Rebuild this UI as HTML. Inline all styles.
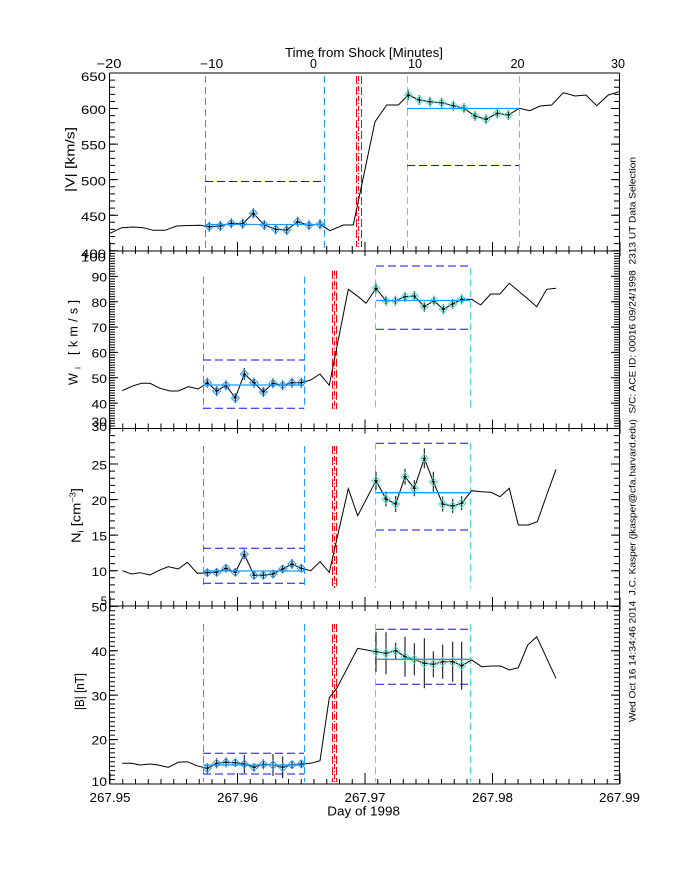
<!DOCTYPE html>
<html><head><meta charset="utf-8"><style>
html,body{margin:0;padding:0;background:#fff;}
svg{display:block;}
text{font-family:"Liberation Sans",sans-serif;fill:#000;}
</style></head><body>
<svg width="680" height="880" viewBox="0 0 680 880" xmlns="http://www.w3.org/2000/svg">
<defs><path id="dm" d="M0,-4L4,0L0,4L-4,0Z" fill="none"/></defs>
<rect width="680" height="880" fill="#fff"/>

<!-- Frame -->
<g stroke="#000" stroke-width="1" fill="none" shape-rendering="crispEdges">
<line x1="109.5" y1="73" x2="109.5" y2="784"/>
<line x1="619.5" y1="73" x2="619.5" y2="784"/>
<line x1="109.5" y1="73" x2="619.5" y2="73"/>
<line x1="109.5" y1="251" x2="619.5" y2="251"/>
<line x1="109.5" y1="428.5" x2="619.5" y2="428.5"/>
<line x1="109.5" y1="606" x2="619.5" y2="606"/>
<line x1="109.5" y1="784" x2="619.5" y2="784"/>
</g>

<!-- Y ticks -->
<g stroke="#000" fill="none">
<line x1="112.5" y1="72.5" x2="112.5" y2="251.5" stroke-width="5" stroke-dasharray="1 6.11"/>
<line x1="114" y1="72.5" x2="114" y2="251.5" stroke-width="8" stroke-dasharray="1 34.55"/>
<line x1="616.5" y1="72.5" x2="616.5" y2="251.5" stroke-width="5" stroke-dasharray="1 6.11"/>
<line x1="615" y1="72.5" x2="615" y2="251.5" stroke-width="8" stroke-dasharray="1 34.55"/>
<line x1="112.5" y1="250.5" x2="112.5" y2="429" stroke-width="5" stroke-dasharray="1 1.5357"/>
<line x1="114" y1="250.5" x2="114" y2="429" stroke-width="8" stroke-dasharray="1 24.357"/>
<line x1="616.5" y1="250.5" x2="616.5" y2="429" stroke-width="5" stroke-dasharray="1 1.5357"/>
<line x1="615" y1="250.5" x2="615" y2="429" stroke-width="8" stroke-dasharray="1 24.357"/>
<line x1="112.5" y1="428" x2="112.5" y2="607" stroke-width="5" stroke-dasharray="1 6.11"/>
<line x1="114" y1="428" x2="114" y2="607" stroke-width="8" stroke-dasharray="1 34.55"/>
<line x1="616.5" y1="428" x2="616.5" y2="607" stroke-width="5" stroke-dasharray="1 6.11"/>
<line x1="615" y1="428" x2="615" y2="607" stroke-width="8" stroke-dasharray="1 34.55"/>
<line x1="112.5" y1="605.75" x2="112.5" y2="784.5" stroke-width="5" stroke-dasharray="1 3.44375"/>
<line x1="114" y1="605.75" x2="114" y2="784.5" stroke-width="8" stroke-dasharray="1 43.4375"/>
<line x1="616.5" y1="605.75" x2="616.5" y2="784.5" stroke-width="5" stroke-dasharray="1 3.44375"/>
<line x1="615" y1="605.75" x2="615" y2="784.5" stroke-width="8" stroke-dasharray="1 43.4375"/>
</g>

<!-- X ticks -->
<g stroke="#000" fill="none">
<line x1="109.5" y1="250" x2="621" y2="250" stroke-width="8" stroke-dasharray="1 11.75"/>
<line x1="109.5" y1="249" x2="621" y2="249" stroke-width="14" stroke-dasharray="1 126.5"/>
<line x1="109.5" y1="427.5" x2="621" y2="427.5" stroke-width="8" stroke-dasharray="1 11.75"/>
<line x1="109.5" y1="426.5" x2="621" y2="426.5" stroke-width="14" stroke-dasharray="1 126.5"/>
<line x1="109.5" y1="605" x2="621" y2="605" stroke-width="8" stroke-dasharray="1 11.75"/>
<line x1="109.5" y1="604" x2="621" y2="604" stroke-width="14" stroke-dasharray="1 126.5"/>
<line x1="109.5" y1="781.5" x2="621" y2="781.5" stroke-width="5" stroke-dasharray="1 11.75"/>
<line x1="109.5" y1="778.5" x2="621" y2="778.5" stroke-width="11" stroke-dasharray="1 126.5"/>
</g>

<!-- Vertical selection lines -->
<g fill="none" stroke-width="1">
<g stroke="#1e9bff" stroke-dasharray="7 4"><line x1="205.5" y1="76" x2="205.5" y2="249"/><line x1="324.5" y1="76" x2="324.5" y2="249"/></g>
<g stroke="#40e0c8" stroke-dasharray="7 4"><line x1="407.5" y1="76" x2="407.5" y2="249"/><line x1="519.5" y1="76" x2="519.5" y2="249"/></g>
<g stroke="#ff0000"><line x1="356.5" y1="76" x2="356.5" y2="247" stroke-dasharray="8 3"/><line x1="358.5" y1="76" x2="358.5" y2="247" stroke-dasharray="5 2 1 2"/><line x1="361.5" y1="76" x2="361.5" y2="247" stroke-dasharray="8 3"/></g>
<g stroke="#1e9bff" stroke-dasharray="7 4"><line x1="203.5" y1="276.7" x2="203.5" y2="409.3"/><line x1="304.5" y1="276.7" x2="304.5" y2="409.3"/></g>
<g stroke="#40e0c8" stroke-dasharray="7 4"><line x1="375.5" y1="268.3" x2="375.5" y2="409.3"/><line x1="470.5" y1="268.3" x2="470.5" y2="409.3"/></g>
<g stroke="#ff0000"><line x1="332.5" y1="270.7" x2="332.5" y2="409.3" stroke-dasharray="8 3"/><line x1="334.5" y1="270.7" x2="334.5" y2="409.3" stroke-dasharray="5 2 1 2"/><line x1="336.5" y1="270.7" x2="336.5" y2="409.3" stroke-dasharray="8 3"/></g>
<g stroke="#1e9bff" stroke-dasharray="7 4"><line x1="203.5" y1="446" x2="203.5" y2="588"/><line x1="304.5" y1="446" x2="304.5" y2="588"/></g>
<g stroke="#40e0c8" stroke-dasharray="7 4"><line x1="375.5" y1="443.3" x2="375.5" y2="588"/><line x1="470.5" y1="443.3" x2="470.5" y2="588"/></g>
<g stroke="#ff0000"><line x1="332.5" y1="446" x2="332.5" y2="588" stroke-dasharray="8 3"/><line x1="334.5" y1="446" x2="334.5" y2="588" stroke-dasharray="5 2 1 2"/><line x1="336.5" y1="446" x2="336.5" y2="588" stroke-dasharray="8 3"/></g>
<g stroke="#1e9bff" stroke-dasharray="7 4"><line x1="203.5" y1="624" x2="203.5" y2="782"/><line x1="304.5" y1="624" x2="304.5" y2="782"/></g>
<g stroke="#40e0c8" stroke-dasharray="7 4"><line x1="375.5" y1="624" x2="375.5" y2="782"/><line x1="470.5" y1="624" x2="470.5" y2="782"/></g>
<g stroke="#ff0000"><line x1="332.5" y1="624" x2="332.5" y2="782" stroke-dasharray="8 3"/><line x1="334.5" y1="624" x2="334.5" y2="782" stroke-dasharray="5 2 1 2"/><line x1="336.5" y1="624" x2="336.5" y2="782" stroke-dasharray="8 3"/></g>
</g>

<!-- Dark blue dashed horizontal limits -->
<g stroke="#1010e8" stroke-width="1" stroke-dasharray="8 4" fill="none">
<line x1="205" y1="181.5" x2="325" y2="181.5"/>
<line x1="407" y1="165.5" x2="519" y2="165.5"/>
<line x1="203" y1="360" x2="304" y2="360"/>
<line x1="203" y1="408.3" x2="304" y2="408.3"/>
<line x1="376" y1="266" x2="470" y2="266"/>
<line x1="376" y1="329.3" x2="470" y2="329.3"/>
<line x1="203" y1="548.3" x2="304" y2="548.3"/>
<line x1="203" y1="583.3" x2="304" y2="583.3"/>
<line x1="376" y1="443.3" x2="470" y2="443.3"/>
<line x1="376" y1="530" x2="470" y2="530"/>
<line x1="203" y1="753.3" x2="304" y2="753.3"/>
<line x1="203" y1="774" x2="304" y2="774"/>
<line x1="376" y1="629.3" x2="470" y2="629.3"/>
<line x1="376" y1="684.3" x2="470" y2="684.3"/>
</g>

<!-- Data lines -->
<g stroke="#000" stroke-width="1" fill="none">
<polyline points="110,233.3 121.7,227.7 133.3,227 143.3,227.7 153.3,230.3 165,230.3 176.7,226 188,225.5 200,225.3 209.3,226.7 220.3,226 231.3,223.3 242.7,223.7 253.3,213.3 264.3,225 275.7,229.3 286.7,230 297.7,221.7 309,225.3 320,224.3 330,230.7 343.3,225 353.3,225 375,121.7 386.7,105 398.3,105 408.3,95 419.3,100 430,101.7 441.7,102.7 453.3,105.7 464,108.3 475,116 486,119.3 497.3,113.3 508.3,115 519.3,108.3 530,110.7 540,106 551.7,105 563.3,92.7 575,96 586,95 596.7,105.7 608.3,95 619,91.7"/>
<polyline points="122.3,390.7 133.3,385.7 141.7,383.3 150,383.3 160,388.3 170,391 178.3,391 188.3,386.7 198.3,389 207.3,382.7 216.7,391 226,385.3 235.3,398 244.3,374 254,382.7 263.3,392 273,383.3 282.7,385.3 292,382.7 301.3,382.7 310.7,380 320,374 329.3,385.3 348.3,289.3 358.3,296.7 366,303.3 376,288.3 386,300.7 395.3,300.7 405,296.7 414.3,296 424.3,306.7 434,300.7 443.3,309.3 452.7,304 461.7,299.3 471.7,299.3 480.7,305 490.7,294 500,294 509.3,283.3 519.3,291.7 528.3,299.3 536.7,306.7 546.7,289.3 556,288.3"/>
<polyline points="122.3,570.7 131.7,574 140,572.7 150,575 158.3,570.7 168.3,566.7 178.3,569 187.3,562.3 197.3,573.3 207.3,572.7 216.7,572.3 226,568.3 235.3,572.3 244.3,554.3 254,575.3 263.3,575.3 273,574 282.7,569 292,564 301.3,568.3 310.7,570.7 320,561.7 329.3,572.3 348.3,488.7 357.7,515.7 376,480.7 386,499 395.7,504 405,476.7 414.3,488.3 424.3,458.3 433.3,481.7 442.7,504 452.7,506 461.7,503.3 471.7,490.7 481.7,491.7 491,492.3 500,496.7 509.3,488.3 518.3,525 528.3,525 537.3,521.7 546.7,495 556,469.3"/>
<polyline points="122.3,763.3 131.7,763.3 140,765 150,764 158.3,765 168.3,767.3 178.3,762.3 187.3,761.7 196.7,765.7 207.3,768.3 216.7,763.3 226,762.3 235.3,762.7 244.3,764 254,767.3 263.3,764.3 273,765 282.7,767.3 292,764.7 301.3,764 310.7,763.3 320,760.7 329.3,697.7 336.7,688.3 357.7,648.3 366.7,650 376,651.7 386,653.3 395.7,650.7 405,656.7 414.3,659.3 424.3,663.3 433.3,664.3 442.7,661.7 452.7,661.7 461.7,665.7 471.7,660 481.7,666.7 491,666 500.7,666 509.3,670 518.3,667.7 527.7,645 536.7,636.7 556,678.3"/>
</g>

<!-- Error bars and + symbols -->
<g stroke="#000" stroke-width="1" fill="none">
<path d="M209.3,221.7V231.7M207.3,226.7H211.3M220.3,221V231M218.3,226H222.3M231.3,218.3V228.3M229.3,223.3H233.3M242.7,218.7V228.7M240.7,223.7H244.7M253.3,208.3V218.3M251.3,213.3H255.3M264.3,220V230M262.3,225H266.3M275.7,224.3V234.3M273.7,229.3H277.7M286.7,225V235M284.7,230H288.7M297.7,216.7V226.7M295.7,221.7H299.7M309,220.3V230.3M307,225.3H311M320,219.3V229.3M318,224.3H322"/>
<path d="M408.3,90V100M406.3,95H410.3M419.3,95V105M417.3,100H421.3M430,96.7V106.7M428,101.7H432M441.7,97.7V107.7M439.7,102.7H443.7M453.3,100.7V110.7M451.3,105.7H455.3M464,103.3V113.3M462,108.3H466M475,111V121M473,116H477M486,114.3V124.3M484,119.3H488M497.3,108.3V118.3M495.3,113.3H499.3M508.3,110V120M506.3,115H510.3"/>
<path d="M207.3,377.7V387.7M205.3,382.7H209.3M216.7,386V396M214.7,391H218.7M226,380.3V390.3M224,385.3H228M235.3,393V403M233.3,398H237.3M244.3,368V380M242.3,374H246.3M254,377.7V387.7M252,382.7H256M263.3,387V397M261.3,392H265.3M273,378.3V388.3M271,383.3H275M282.7,380.3V390.3M280.7,385.3H284.7M292,377.7V387.7M290,382.7H294M301.3,377.7V387.7M299.3,382.7H303.3"/>
<path d="M376,283.3V293.3M374,288.3H378M386,295.7V305.7M384,300.7H388M395.3,295.7V305.7M393.3,300.7H397.3M405,291.7V301.7M403,296.7H407M414.3,291V301M412.3,296H416.3M424.3,301.7V311.7M422.3,306.7H426.3M434,295.7V305.7M432,300.7H436M443.3,304.3V314.3M441.3,309.3H445.3M452.7,299V309M450.7,304H454.7M461.7,294.3V304.3M459.7,299.3H463.7"/>
<path d="M207.3,568.7V576.7M205.3,572.7H209.3M216.7,568.3V576.3M214.7,572.3H218.7M226,564.3V572.3M224,568.3H228M235.3,568.3V576.3M233.3,572.3H237.3M244.3,549.3V559.3M242.3,554.3H246.3M254,571.3V579.3M252,575.3H256M263.3,571.3V579.3M261.3,575.3H265.3M273,570V578M271,574H275M282.7,565V573M280.7,569H284.7M292,559V569M290,564H294M301.3,564.3V572.3M299.3,568.3H303.3"/>
<path d="M376,471.7V489.7M374,480.7H378M386,491.5V506.5M384,499H388M395.7,496V512M393.7,504H397.7M405,468.7V484.7M403,476.7H407M414.3,480.3V496.3M412.3,488.3H416.3M424.3,448.3V468.3M422.3,458.3H426.3M433.3,471.7V491.7M431.3,481.7H435.3M442.7,496.5V511.5M440.7,504H444.7M452.7,499V513M450.7,506H454.7M461.7,496.3V510.3M459.7,503.3H463.7"/>
<path d="M207.3,763.3V773.3M205.3,768.3H209.3M216.7,758.3V768.3M214.7,763.3H218.7M226,757.3V767.3M224,762.3H228M235.3,758.7V766.7M233.3,762.7H237.3M244.3,755V773M242.3,764H246.3M254,764.3V770.3M252,767.3H256M263.3,759.3V769.3M261.3,764.3H265.3M273,754V776M271,765H275M282.7,756.3V778.3M280.7,767.3H284.7M292,760.7V768.7M290,764.7H294M301.3,760V768M299.3,764H303.3"/>
<path d="M376,631.7V671.7M374,651.7H378M386,632.3V674.3M384,653.3H388M395.7,642.7V658.7M393.7,650.7H397.7M405,636.7V676.7M403,656.7H407M414.3,643.3V675.3M412.3,659.3H416.3M424.3,638.3V688.3M422.3,663.3H426.3M433.3,651.3V677.3M431.3,664.3H435.3M442.7,644.7V678.7M440.7,661.7H444.7M452.7,641.7V681.7M450.7,661.7H454.7M461.7,641.7V689.7M459.7,665.7H463.7"/>
</g>

<!-- Diamonds -->
<g stroke="#1e9bff" stroke-width="1" fill="none">
<use href="#dm" x="209.3" y="226.7"/><use href="#dm" x="220.3" y="226"/><use href="#dm" x="231.3" y="223.3"/><use href="#dm" x="242.7" y="223.7"/><use href="#dm" x="253.3" y="213.3"/><use href="#dm" x="264.3" y="225"/><use href="#dm" x="275.7" y="229.3"/><use href="#dm" x="286.7" y="230"/><use href="#dm" x="297.7" y="221.7"/><use href="#dm" x="309" y="225.3"/><use href="#dm" x="320" y="224.3"/>
<use href="#dm" x="207.3" y="382.7"/><use href="#dm" x="216.7" y="391"/><use href="#dm" x="226" y="385.3"/><use href="#dm" x="235.3" y="398"/><use href="#dm" x="244.3" y="374"/><use href="#dm" x="254" y="382.7"/><use href="#dm" x="263.3" y="392"/><use href="#dm" x="273" y="383.3"/><use href="#dm" x="282.7" y="385.3"/><use href="#dm" x="292" y="382.7"/><use href="#dm" x="301.3" y="382.7"/>
<use href="#dm" x="207.3" y="572.7"/><use href="#dm" x="216.7" y="572.3"/><use href="#dm" x="226" y="568.3"/><use href="#dm" x="235.3" y="572.3"/><use href="#dm" x="244.3" y="554.3"/><use href="#dm" x="254" y="575.3"/><use href="#dm" x="263.3" y="575.3"/><use href="#dm" x="273" y="574"/><use href="#dm" x="282.7" y="569"/><use href="#dm" x="292" y="564"/><use href="#dm" x="301.3" y="568.3"/>
<use href="#dm" x="207.3" y="768.3"/><use href="#dm" x="216.7" y="763.3"/><use href="#dm" x="226" y="762.3"/><use href="#dm" x="235.3" y="762.7"/><use href="#dm" x="244.3" y="764"/><use href="#dm" x="254" y="767.3"/><use href="#dm" x="263.3" y="764.3"/><use href="#dm" x="273" y="765"/><use href="#dm" x="282.7" y="767.3"/><use href="#dm" x="292" y="764.7"/><use href="#dm" x="301.3" y="764"/>
</g>
<g stroke="#40e0c8" stroke-width="1" fill="none">
<use href="#dm" x="408.3" y="95"/><use href="#dm" x="419.3" y="100"/><use href="#dm" x="430" y="101.7"/><use href="#dm" x="441.7" y="102.7"/><use href="#dm" x="453.3" y="105.7"/><use href="#dm" x="464" y="108.3"/><use href="#dm" x="475" y="116"/><use href="#dm" x="486" y="119.3"/><use href="#dm" x="497.3" y="113.3"/><use href="#dm" x="508.3" y="115"/>
<use href="#dm" x="376" y="288.3"/><use href="#dm" x="386" y="300.7"/><use href="#dm" x="395.3" y="300.7"/><use href="#dm" x="405" y="296.7"/><use href="#dm" x="414.3" y="296"/><use href="#dm" x="424.3" y="306.7"/><use href="#dm" x="434" y="300.7"/><use href="#dm" x="443.3" y="309.3"/><use href="#dm" x="452.7" y="304"/><use href="#dm" x="461.7" y="299.3"/>
<use href="#dm" x="376" y="480.7"/><use href="#dm" x="386" y="499"/><use href="#dm" x="395.7" y="504"/><use href="#dm" x="405" y="476.7"/><use href="#dm" x="414.3" y="488.3"/><use href="#dm" x="424.3" y="458.3"/><use href="#dm" x="433.3" y="481.7"/><use href="#dm" x="442.7" y="504"/><use href="#dm" x="452.7" y="506"/><use href="#dm" x="461.7" y="503.3"/>
<use href="#dm" x="376" y="651.7"/><use href="#dm" x="386" y="653.3"/><use href="#dm" x="395.7" y="650.7"/><use href="#dm" x="405" y="656.7"/><use href="#dm" x="414.3" y="659.3"/><use href="#dm" x="424.3" y="663.3"/><use href="#dm" x="433.3" y="664.3"/><use href="#dm" x="442.7" y="661.7"/><use href="#dm" x="452.7" y="661.7"/><use href="#dm" x="461.7" y="665.7"/>
</g>

<!-- Mean lines -->
<g stroke="#1e9bff" stroke-width="1.3" fill="none">
<line x1="205" y1="224.5" x2="325" y2="224.5"/>
<line x1="407" y1="108.5" x2="519" y2="108.5"/>
<line x1="203" y1="385" x2="304" y2="385"/>
<line x1="376" y1="300.5" x2="470" y2="300.5"/>
<line x1="203" y1="571" x2="304" y2="571"/>
<line x1="376" y1="492.7" x2="470" y2="492.7"/>
<line x1="203" y1="765" x2="304" y2="765"/>
<line x1="376" y1="659.3" x2="470" y2="659.3"/>
</g>

<!-- Top axis labels -->
<g font-size="12.5" text-anchor="middle">
<text x="109" y="68" textLength="25" lengthAdjust="spacingAndGlyphs">−20</text>
<text x="211.7" y="68" textLength="23" lengthAdjust="spacingAndGlyphs">−10</text>
<text x="313.5" y="68">0</text>
<text x="415" y="68" textLength="14" lengthAdjust="spacingAndGlyphs">10</text>
<text x="517.5" y="68" textLength="14" lengthAdjust="spacingAndGlyphs">20</text>
<text x="618" y="68" textLength="14" lengthAdjust="spacingAndGlyphs">30</text>
</g>
<text x="285" y="57" font-size="12.5" textLength="158" lengthAdjust="spacingAndGlyphs">Time from Shock [Minutes]</text>

<!-- Y tick labels -->
<g font-size="11.5" text-anchor="end">
<text x="106" y="81" textLength="25" lengthAdjust="spacingAndGlyphs">650</text>
<text x="106" y="114" textLength="25" lengthAdjust="spacingAndGlyphs">600</text>
<text x="106" y="149.7" textLength="25" lengthAdjust="spacingAndGlyphs">550</text>
<text x="106" y="185.3" textLength="25" lengthAdjust="spacingAndGlyphs">500</text>
<text x="106" y="220.9" textLength="25" lengthAdjust="spacingAndGlyphs">450</text>
<text x="106" y="258" textLength="25" lengthAdjust="spacingAndGlyphs">400</text>

<text x="106" y="261.5" textLength="25" lengthAdjust="spacingAndGlyphs">100</text>
<text x="107" y="281.5" textLength="15.5" lengthAdjust="spacingAndGlyphs">90</text>
<text x="107" y="306.8" textLength="15.5" lengthAdjust="spacingAndGlyphs">80</text>
<text x="107" y="332.2" textLength="15.5" lengthAdjust="spacingAndGlyphs">70</text>
<text x="107" y="357.5" textLength="15.5" lengthAdjust="spacingAndGlyphs">60</text>
<text x="107" y="382.9" textLength="15.5" lengthAdjust="spacingAndGlyphs">50</text>
<text x="107" y="408.3" textLength="15.5" lengthAdjust="spacingAndGlyphs">40</text>
<text x="107" y="426" textLength="15.5" lengthAdjust="spacingAndGlyphs">30</text>

<text x="107" y="431" textLength="15.5" lengthAdjust="spacingAndGlyphs">30</text>
<text x="107" y="469.5" textLength="15.5" lengthAdjust="spacingAndGlyphs">25</text>
<text x="107" y="505" textLength="15.5" lengthAdjust="spacingAndGlyphs">20</text>
<text x="107" y="540.5" textLength="15.5" lengthAdjust="spacingAndGlyphs">15</text>
<text x="107" y="576" textLength="15.5" lengthAdjust="spacingAndGlyphs">10</text>
<text x="107" y="605">5</text>

<text x="107" y="611.5" textLength="15.5" lengthAdjust="spacingAndGlyphs">50</text>
<text x="107" y="656" textLength="15.5" lengthAdjust="spacingAndGlyphs">40</text>
<text x="107" y="700.3" textLength="15.5" lengthAdjust="spacingAndGlyphs">30</text>
<text x="107" y="744.7" textLength="15.5" lengthAdjust="spacingAndGlyphs">20</text>
<text x="107" y="786" textLength="15.5" lengthAdjust="spacingAndGlyphs">10</text>
</g>

<!-- Y axis titles -->
<text transform="translate(74.5,192) rotate(-90)" font-size="12.5" textLength="65" lengthAdjust="spacingAndGlyphs">|V| [km/s]</text>
<text transform="translate(77.5,385) rotate(-90)" font-size="12.5" textLength="85" lengthAdjust="spacing">W<tspan font-size="8" dy="3">i</tspan><tspan dy="-3"> [km/s]</tspan></text>
<text transform="translate(80.5,543) rotate(-90)" font-size="12.5" textLength="55" lengthAdjust="spacingAndGlyphs">N<tspan font-size="8" dy="3">i</tspan><tspan dy="-3"> [cm</tspan><tspan font-size="8" dy="-5">−3</tspan><tspan dy="5">]</tspan></text>
<text transform="translate(84,710) rotate(-90)" font-size="12.5" textLength="37" lengthAdjust="spacingAndGlyphs">|B| [nT]</text>

<!-- Bottom labels -->
<g font-size="12.5" text-anchor="middle">
<text x="110" y="802" textLength="41" lengthAdjust="spacingAndGlyphs">267.95</text>
<text x="237.5" y="802" textLength="41" lengthAdjust="spacingAndGlyphs">267.96</text>
<text x="365" y="802" textLength="41" lengthAdjust="spacingAndGlyphs">267.97</text>
<text x="492.5" y="802" textLength="41" lengthAdjust="spacingAndGlyphs">267.98</text>
<text x="619.5" y="802" textLength="41" lengthAdjust="spacingAndGlyphs">267.99</text>
</g>
<text x="327.3" y="815.5" font-size="12.5" textLength="72.7" lengthAdjust="spacingAndGlyphs">Day of 1998</text>

<!-- Right-side annotation -->
<text transform="translate(635.5,722) rotate(-90)" font-size="9" style="white-space:pre" textLength="565" lengthAdjust="spacingAndGlyphs">Wed Oct 16 14:34:46 2014  J.C. Kasper (jkasper@cfa.harvard.edu)  S/C: ACE ID: 00016 09/24/1998  2313 UT Data Selection</text>
</svg>
</body></html>
